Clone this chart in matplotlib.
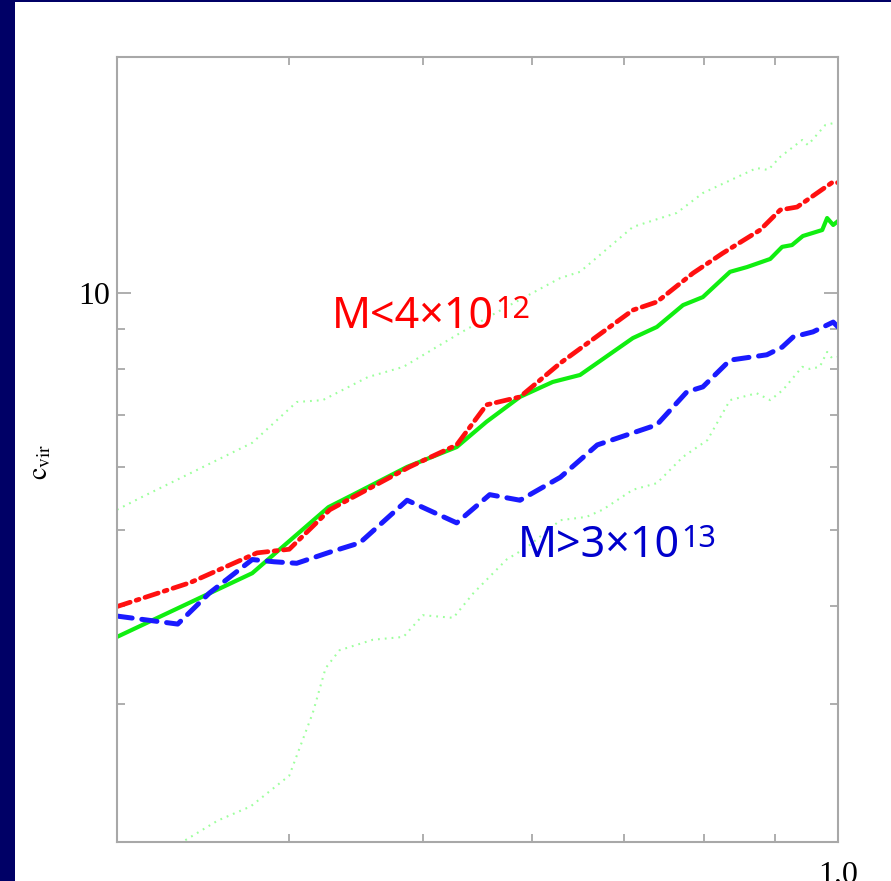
import matplotlib
matplotlib.use("Agg")
import matplotlib.pyplot as plt
import matplotlib.ticker as ticker
from matplotlib.patches import Rectangle

# c_vir versus a
green_x = [0.300, 0.376, 0.427, 0.445, 0.487, 0.529, 0.556, 0.588, 0.621, 0.650, 0.710, 0.739,
           0.772, 0.798, 0.835, 0.859, 0.893, 0.911, 0.926, 0.943, 0.974, 0.982, 0.992, 1.000]
green_y = [3.65, 4.40, 5.34, 5.54, 6.01, 6.37, 6.86, 7.38, 7.71, 7.87, 8.77, 9.06,
           9.66, 9.89, 10.65, 10.80, 11.06, 11.46, 11.52, 11.83, 12.04, 12.47, 12.22, 12.36]

red_x = [0.300, 0.339, 0.379, 0.400, 0.428, 0.445, 0.489, 0.529, 0.556, 0.588, 0.629, 0.710,
         0.739, 0.785, 0.825, 0.878, 0.908, 0.934, 0.992, 1.000]
red_y = [3.99, 4.28, 4.67, 4.72, 5.30, 5.50, 6.01, 6.41, 7.21, 7.38, 8.15, 9.52,
         9.75, 10.61, 11.25, 12.04, 12.77, 12.88, 13.87, 13.83]

blue_x = [0.300, 0.332, 0.350, 0.376, 0.390, 0.405, 0.428, 0.450, 0.487, 0.529, 0.559, 0.588,
          0.629, 0.669, 0.739, 0.777, 0.798, 0.835, 0.888, 0.911, 0.928, 0.959, 0.992, 1.000]
blue_y = [3.88, 3.79, 4.15, 4.58, 4.55, 4.53, 4.68, 4.81, 5.45, 5.10, 5.54, 5.45,
          5.83, 6.41, 6.80, 7.49, 7.60, 8.22, 8.35, 8.54, 8.80, 8.93, 9.19, 9.06]

upper_x = [0.300, 0.312, 0.376, 0.405, 0.423, 0.456, 0.484, 0.532, 0.575, 0.629, 0.650, 0.710,
           0.764, 0.798, 0.873, 0.890, 0.908, 0.942, 0.951, 0.979, 1.000]
upper_y = [5.30, 5.49, 6.45, 7.27, 7.31, 7.82, 8.06, 8.90, 9.61, 10.46, 10.65, 12.15,
           12.66, 13.42, 14.44, 14.36, 14.92, 15.68, 15.45, 16.38, 16.53]

lower_x = [0.333, 0.355, 0.375, 0.400, 0.416, 0.425, 0.435, 0.460, 0.484, 0.500, 0.526, 0.544,
           0.575, 0.595, 0.629, 0.657, 0.675, 0.710, 0.739, 0.772, 0.804, 0.835, 0.873, 0.893,
           0.912, 0.942, 0.954, 0.970, 0.982, 0.990, 1.000]
lower_y = [1.99, 2.13, 2.22, 2.43, 2.92, 3.33, 3.51, 3.62, 3.65, 3.89, 3.86, 4.15,
           4.58, 4.75, 5.14, 5.19, 5.30, 5.62, 5.73, 6.19, 6.50, 7.31, 7.46, 7.31,
           7.53, 8.06, 8.01, 8.06, 8.42, 8.27, 8.30]

label_low = "M<4\u00d710"
label_low_exp = "12"
label_high = "M>3\u00d710"
label_high_exp = "13"

plt.rcParams['lines.scale_dashes'] = False
plt.rcParams['mathtext.fontset'] = 'stix'

navy = "#000066"
axis_grey = "#a8a8a8"

fig = plt.figure(figsize=(8.91, 8.81), dpi=100, facecolor=navy)
# white slide panel
fig.add_artist(Rectangle((15 / 891, 0), 1, 879 / 881, transform=fig.transFigure,
                         facecolor="white", edgecolor="none", zorder=-1))

ax = fig.add_axes([117 / 891, 39 / 881, 721 / 891, 785 / 881])
ax.set_xscale("log")
ax.set_yscale("log")

ax.plot(upper_x, upper_y, color="#9dff9d", lw=1.5, dashes=(1.3, 3.6))
ax.plot(lower_x, lower_y, color="#9dff9d", lw=1.5, dashes=(1.3, 3.6))
ax.plot(green_x, green_y, color="#10ee10", lw=3.0, solid_joinstyle="round")
ax.plot(blue_x, blue_y, color="#1a1aff", lw=3.6, dashes=(11, 7), dash_capstyle="round")
ax.plot(red_x, red_y, color="#ff1010", lw=3.4, dashes=(10, 4.5, 2.2, 4.5), dash_capstyle="round")

ax.set_xlim(0.3, 1.0)
ax.set_ylim(2.0, 20.0)

ax.xaxis.set_major_locator(ticker.FixedLocator([1.0]))
ax.xaxis.set_minor_locator(ticker.FixedLocator([0.3, 0.4, 0.5, 0.6, 0.7, 0.8, 0.9]))
ax.xaxis.set_major_formatter(ticker.FuncFormatter(lambda v, p: f"{v:.1f}"))
ax.xaxis.set_minor_formatter(ticker.NullFormatter())
ax.yaxis.set_major_locator(ticker.FixedLocator([10.0]))
ax.yaxis.set_minor_locator(ticker.FixedLocator([2, 3, 4, 5, 6, 7, 8, 9, 20]))
ax.yaxis.set_major_formatter(ticker.FuncFormatter(lambda v, p: f"{v:g}"))
ax.yaxis.set_minor_formatter(ticker.NullFormatter())

for s in ax.spines.values():
    s.set_color(axis_grey)
    s.set_linewidth(1.5)
ax.tick_params(which="both", direction="in", top=True, right=True, color=axis_grey, width=1.3)
ax.tick_params(which="major", length=10)
ax.tick_params(which="minor", length=5.5)
ax.tick_params(axis="y", which="major", pad=5, labelsize=23)
ax.tick_params(axis="x", which="major", pad=14, labelsize=23)
for lab in ax.get_xticklabels() + ax.get_yticklabels():
    lab.set_fontfamily("Liberation Serif")

ax.set_ylabel(r"$\mathrm{c}_{\mathrm{vir}}$", fontsize=20, rotation=90)
ax.yaxis.set_label_coords(-0.088, 0.484)

t1 = ax.text(0.298, 0.655, label_low, transform=ax.transAxes, color="#ff0000",
             fontsize=31, family="Noto Sans", va="baseline", ha="left")
ax.annotate(label_low_exp, xy=(1, 1), xycoords=t1, xytext=(1, 0), textcoords="offset points",
            color="#ff0000", fontsize=22, family="Noto Sans", va="top", ha="left")
t2 = ax.text(0.556, 0.363, label_high, transform=ax.transAxes, color="#0000cc",
             fontsize=31, family="Noto Sans", va="baseline", ha="left")
ax.annotate(label_high_exp, xy=(1, 1), xycoords=t2, xytext=(1, 0), textcoords="offset points",
            color="#0000cc", fontsize=22, family="Noto Sans", va="top", ha="left")

plt.savefig("out.png", dpi=100, facecolor=navy)
